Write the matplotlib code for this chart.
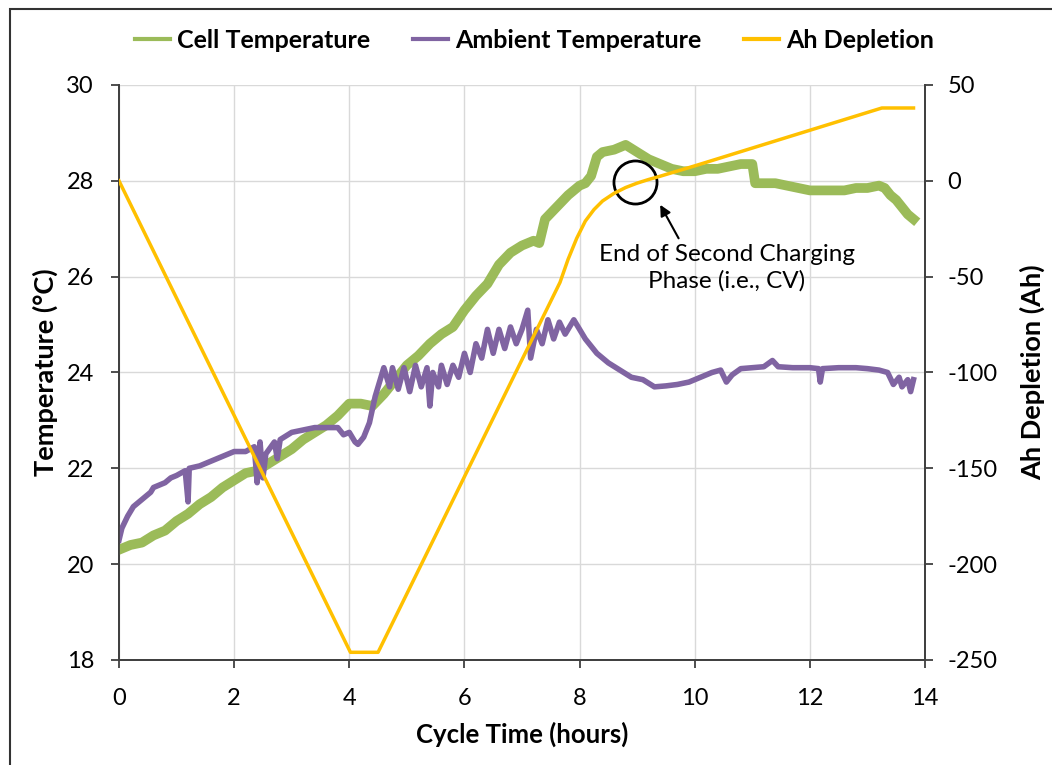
import matplotlib
matplotlib.use('Agg')
import matplotlib.pyplot as plt
from matplotlib.patches import Rectangle

plt.rcParams['font.family'] = ['Lato', 'DejaVu Sans']
plt.rcParams['axes.unicode_minus'] = False

GREEN = '#9BBB59'
PURPLE = '#8064A2'
YELLOW = '#FFC000'
AXIS = '#404040'
GRID = '#D9D9D9'

# cell temperature (deg C) vs cycle time (hours)
cell_t = [0, 0.2, 0.4, 0.6, 0.8, 1.0, 1.2, 1.4, 1.6, 1.8, 2.0, 2.2, 2.4, 2.6, 2.8,
          3.0, 3.2, 3.4, 3.6, 3.8, 4.0, 4.2, 4.4, 4.6, 4.8, 5.0, 5.2, 5.4, 5.6, 5.8,
          6.0, 6.2, 6.4, 6.6, 6.8, 7.0, 7.2, 7.3, 7.4, 7.6, 7.8, 8.0, 8.1, 8.2, 8.3,
          8.4, 8.6, 8.8, 9.0, 9.2, 9.4, 9.6, 9.8, 10.0, 10.2, 10.4, 10.6, 10.8, 11.0,
          11.05, 11.2, 11.4, 11.6, 11.8, 12.0, 12.2, 12.4, 12.6, 12.8, 13.0, 13.2,
          13.3, 13.4, 13.5, 13.6, 13.7, 13.8]
cell_temp = [20.3, 20.4, 20.45, 20.6, 20.7, 20.9, 21.05, 21.25, 21.4, 21.6, 21.75,
             21.9, 21.95, 22.1, 22.25, 22.4, 22.6, 22.75, 22.9, 23.1, 23.35, 23.35,
             23.3, 23.55, 23.85, 24.15, 24.35, 24.6, 24.8, 24.95, 25.3, 25.6, 25.85,
             26.25, 26.5, 26.65, 26.75, 26.7, 27.2, 27.45, 27.7, 27.9, 27.95, 28.1,
             28.5, 28.6, 28.65, 28.75, 28.6, 28.45, 28.35, 28.25, 28.2, 28.2, 28.25,
             28.25, 28.3, 28.35, 28.35, 27.95, 27.95, 27.95, 27.9, 27.85, 27.8, 27.8,
             27.8, 27.8, 27.85, 27.85, 27.9, 27.85, 27.7, 27.6, 27.45, 27.3, 27.2]

# ambient temperature (deg C)
amb_t = [0, 0.05, 0.15, 0.25, 0.4, 0.55, 0.6, 0.8, 0.9, 1.0, 1.15, 1.2, 1.22, 1.4,
         1.6, 1.8, 2.0, 2.2, 2.35, 2.4, 2.45, 2.5, 2.55, 2.7, 2.75, 2.8, 3.0, 3.2,
         3.4, 3.6, 3.8, 3.9, 4.0, 4.1, 4.15, 4.25, 4.35, 4.45, 4.55, 4.6, 4.7, 4.75,
         4.85, 4.95, 5.05, 5.15, 5.25, 5.35, 5.4, 5.45, 5.55, 5.6, 5.7, 5.8, 5.9,
         6.0, 6.1, 6.2, 6.3, 6.4, 6.5, 6.6, 6.7, 6.8, 6.9, 7.0, 7.1, 7.15, 7.25,
         7.35, 7.45, 7.55, 7.65, 7.75, 7.9, 8.0, 8.1, 8.2, 8.3, 8.4, 8.5, 8.7, 8.9,
         9.1, 9.3, 9.5, 9.7, 9.9, 10.1, 10.3, 10.45, 10.55, 10.65, 10.8, 11.0, 11.2,
         11.35, 11.45, 11.7, 12.0, 12.15, 12.18, 12.22, 12.5, 12.8, 13.0, 13.2,
         13.35, 13.45, 13.55, 13.6, 13.7, 13.75, 13.8]
amb_temp = [20.5, 20.75, 21.0, 21.2, 21.35, 21.5, 21.6, 21.7, 21.8, 21.85, 21.95,
            21.3, 22.0, 22.05, 22.15, 22.25, 22.35, 22.35, 22.45, 21.7, 22.55, 21.8,
            22.3, 22.55, 22.2, 22.6, 22.75, 22.8, 22.85, 22.85, 22.85, 22.7, 22.75,
            22.55, 22.5, 22.65, 22.95, 23.5, 23.9, 24.1, 23.7, 24.1, 23.65, 24.1,
            23.6, 24.15, 23.7, 24.1, 23.3, 24.0, 23.7, 24.15, 23.75, 24.15, 23.9,
            24.4, 24.0, 24.6, 24.3, 24.9, 24.4, 24.9, 24.5, 24.95, 24.6, 24.9, 25.3,
            24.3, 24.9, 24.6, 25.1, 24.7, 25.05, 24.8, 25.1, 24.9, 24.7, 24.55, 24.4,
            24.3, 24.2, 24.05, 23.9, 23.85, 23.7, 23.72, 23.75, 23.8, 23.9, 24.0,
            24.05, 23.8, 23.95, 24.08, 24.1, 24.12, 24.25, 24.12, 24.1, 24.1, 24.08,
            23.8, 24.08, 24.1, 24.1, 24.08, 24.05, 24.0, 23.75, 23.9, 23.7, 23.85,
            23.6, 23.85]

# Ah depletion (Ah)
ah_t = [0, 4.02, 4.5, 7.66, 7.8, 7.95, 8.1, 8.25, 8.4, 8.6, 8.8, 9.0, 9.2, 9.4,
        9.6, 10.0, 13.25, 13.8]
ah_val = [0, -246, -246, -53, -41, -30, -21, -15, -10.5, -6.5, -3.5, -1.2, 0.7,
          2.4, 4.2, 7.8, 38, 38]

fig = plt.figure(figsize=(10.52, 7.65), dpi=100)
ax = fig.add_axes([0.1131, 0.1373, 0.7662, 0.7516])
ax2 = ax.twinx()

ax.plot(cell_t, cell_temp, color=GREEN, lw=7, label='Cell Temperature', zorder=3)
ax.plot(amb_t, amb_temp, color=PURPLE, lw=4, label='Ambient Temperature', zorder=4)
ax2.plot(ah_t, ah_val, color=YELLOW, lw=2.5, label='Ah Depletion', zorder=5)

ax.set_xlim(0, 14)
ax.set_ylim(18, 30)
ax2.set_ylim(-250, 50)
ax.set_xticks(range(0, 15, 2))
ax.set_yticks(range(18, 31, 2))
ax2.set_yticks(range(-250, 51, 50))

ax.grid(True, color=GRID, lw=1)
ax.set_axisbelow(True)

for a in (ax, ax2):
    for side in ('left', 'right', 'bottom'):
        a.spines[side].set_color(AXIS)
        a.spines[side].set_linewidth(1.3)
    a.spines['top'].set_visible(False)
    a.tick_params(colors=AXIS, labelcolor='black', labelsize=17,
                  length=6, width=1.3, direction='out')
ax.tick_params(axis='y', pad=12)
ax.tick_params(axis='x', pad=14)
ax2.tick_params(axis='y', pad=10)

ax.set_xlabel('Cycle Time (hours)', fontsize=18.5, fontweight='bold', labelpad=9)
ax.set_ylabel('Temperature (°C)', fontsize=19.5, fontweight='bold', labelpad=6)
ax2.set_ylabel('Ah Depletion (Ah)', fontsize=19.5, fontweight='bold', labelpad=16)

# annotation: circle, short arrow and note
ax.plot([8.96], [27.98], marker='o', ms=31, mfc='none', mec='black', mew=2, zorder=6)
ax.annotate('', xy=(9.4, 27.5), xytext=(9.72, 26.8),
            arrowprops=dict(arrowstyle='-|>', color='black', lw=1.5,
                            mutation_scale=16, shrinkA=0, shrinkB=0),
            zorder=7)
ax.text(10.56, 26.18, 'End of Second Charging\nPhase (i.e., CV)', ha='center',
        va='center', fontsize=17.5, linespacing=1.3, zorder=7)

handles = ax.get_lines()[:2] + ax2.get_lines()[:1]
leg = fig.legend(handles, [h.get_label() for h in handles], loc='center',
                 bbox_to_anchor=(0.508, 0.947), ncol=3, frameon=False,
                 handlelength=1.4, handletextpad=0.3, columnspacing=1.7,
                 prop={'weight': 'bold', 'size': 18})
for h in leg.legend_handles:
    h.set_linewidth(3)

# outer chart border
fig.patches.append(Rectangle((10 / 1052, -0.05), 1.2, 1.05 - 9 / 765, fill=False,
                             edgecolor='#333333', lw=1.5,
                             transform=fig.transFigure, figure=fig))

fig.savefig('out.png', dpi=100)
